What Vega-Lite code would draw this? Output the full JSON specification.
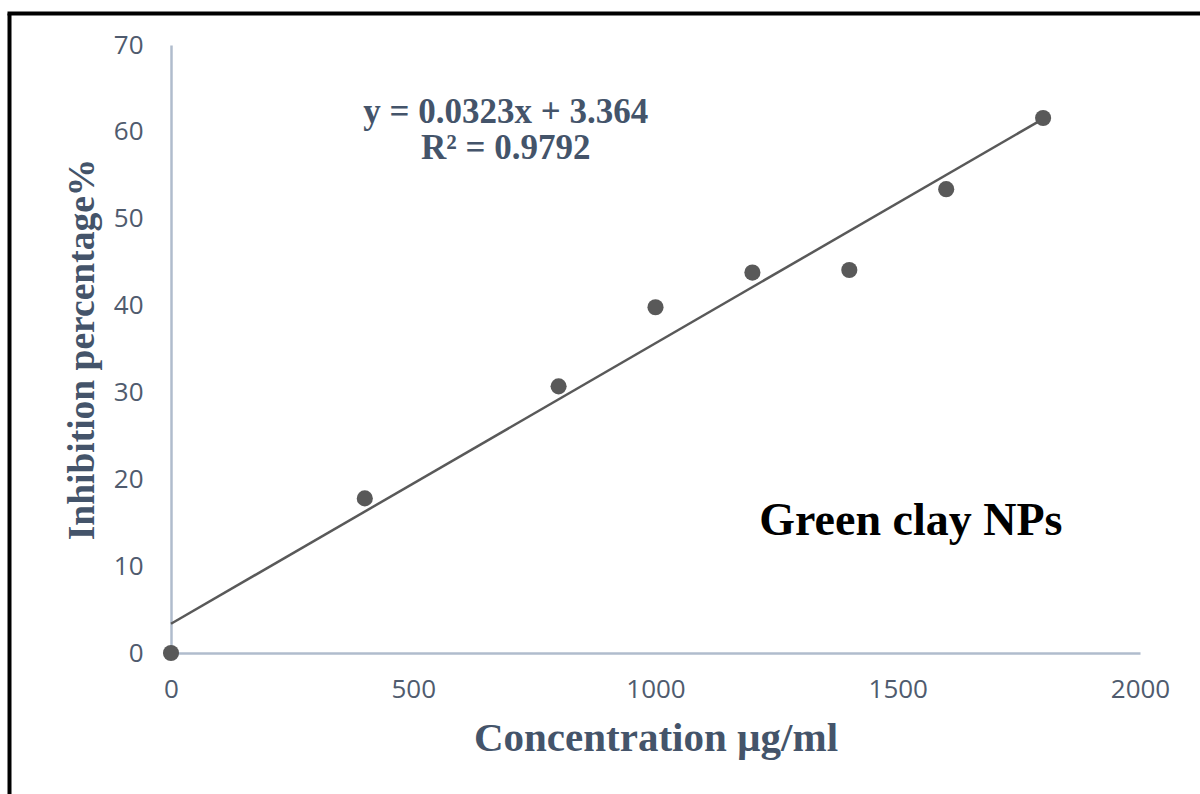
{
  "$schema": "https://vega.github.io/schema/vega-lite/v6.json",
  "width": 969,
  "height": 608,
  "autosize": {"type": "none"},
  "padding": {"left": 171, "top": 45, "right": 60, "bottom": 141},
  "background": "white",
  "config": {"view": {"stroke": null}},
  "datasets": {
    "obs": [
      {"conc": 0, "inh": 0},
      {"conc": 400, "inh": 17.8},
      {"conc": 800, "inh": 30.7},
      {"conc": 1000, "inh": 39.8},
      {"conc": 1200, "inh": 43.8},
      {"conc": 1400, "inh": 44.1},
      {"conc": 1600, "inh": 53.4},
      {"conc": 1800, "inh": 61.6}
    ],
    "trend": [
      {"conc": 0, "inh": 3.364},
      {"conc": 1800, "inh": 61.504}
    ],
    "notes": [
      {"conc": 691, "inh": 62.3, "label": "y = 0.0323x + 3.364", "kind": "eq"},
      {"conc": 691, "inh": 58.1, "label": "R² = 0.9792", "kind": "eq"},
      {"conc": 1527, "inh": 15.2, "label": "Green clay NPs", "kind": "name"}
    ]
  },
  "layer": [
    {
      "layer": [
        {
          "data": {"name": "trend"},
          "mark": {"type": "line", "color": "#595959", "strokeWidth": 2.5},
          "encoding": {
            "x": {"field": "conc", "type": "quantitative"},
            "y": {"field": "inh", "type": "quantitative"}
          }
        },
        {
          "data": {"name": "obs"},
          "mark": {"type": "point", "filled": true, "color": "#595959", "opacity": 1, "size": 260},
          "encoding": {
            "x": {
              "field": "conc", "type": "quantitative",
              "scale": {"domain": [0, 2000], "nice": false, "zero": true},
              "axis": {
                "values": [0, 500, 1000, 1500, 2000], "format": "d",
                "grid": false, "ticks": false,
                "domainColor": "#b0bccd", "domainWidth": 2.5,
                "labelFont": "Open Sans", "labelFontSize": 26, "labelColor": "#4f5b6e",
                "labelPadding": 23, "labelFlush": false,
                "title": "Concentration  µg/ml",
                "titleFont": "Liberation Serif", "titleFontSize": 41, "titleFontWeight": "bold",
                "titleColor": "#44546a", "titlePadding": 16
              }
            },
            "y": {
              "field": "inh", "type": "quantitative",
              "scale": {"domain": [0, 70], "nice": false},
              "axis": {
                "values": [0, 10, 20, 30, 40, 50, 60, 70], "format": "d",
                "grid": false, "ticks": false,
                "domainColor": "#b0bccd", "domainWidth": 2.5,
                "labelFont": "Open Sans", "labelFontSize": 26, "labelColor": "#4f5b6e",
                "labelPadding": 28, "labelFlush": false,
                "title": "Inhibition percentage%",
                "titleFont": "Liberation Serif", "titleFontSize": 37.5, "titleFontWeight": "bold",
                "titleColor": "#44546a", "titlePadding": 12
              }
            }
          }
        },
        {
          "data": {"name": "notes"},
          "transform": [{"filter": "datum.kind == 'eq'"}],
          "mark": {"type": "text", "font": "Liberation Serif", "fontSize": 35, "fontWeight": "bold", "color": "#44546a", "align": "center", "baseline": "middle"},
          "encoding": {
            "x": {"field": "conc", "type": "quantitative"},
            "y": {"field": "inh", "type": "quantitative"},
            "text": {"field": "label"}
          }
        },
        {
          "data": {"name": "notes"},
          "transform": [{"filter": "datum.kind == 'name'"}],
          "mark": {"type": "text", "font": "Liberation Serif", "fontSize": 46, "fontWeight": "bold", "color": "#000000", "align": "center", "baseline": "middle"},
          "encoding": {
            "x": {"field": "conc", "type": "quantitative"},
            "y": {"field": "inh", "type": "quantitative"},
            "text": {"field": "label"}
          }
        }
      ]
    },
    {
      "data": {"name": "obs"},
      "mark": {"type": "point", "opacity": 0},
      "encoding": {
        "x": {
          "field": "conc", "type": "quantitative",
          "scale": {"domain": [0, 2000], "range": [-164, 1100]},
          "axis": {"orient": "top", "offset": 32, "labels": false, "ticks": false, "grid": false, "title": null, "domainColor": "#000000", "domainWidth": 4}
        },
        "y": {
          "field": "inh", "type": "quantitative",
          "scale": {"domain": [0, 70], "range": [800, -32]},
          "axis": {"orient": "right", "offset": 0, "labels": false, "ticks": false, "grid": false, "title": null, "domainOpacity": 0}
        }
      }
    },
    {
      "data": {"name": "obs"},
      "mark": {"type": "point", "opacity": 0},
      "encoding": {
        "y": {
          "field": "inh", "type": "quantitative",
          "scale": {"domain": [0, 70], "range": [800, -32]},
          "axis": {"orient": "left", "offset": 162, "labels": false, "ticks": false, "grid": false, "title": null, "domainColor": "#000000", "domainWidth": 4}
        }
      }
    }
  ],
  "resolve": {"scale": {"x": "independent", "y": "independent"}, "axis": {"x": "independent", "y": "independent"}}
}
